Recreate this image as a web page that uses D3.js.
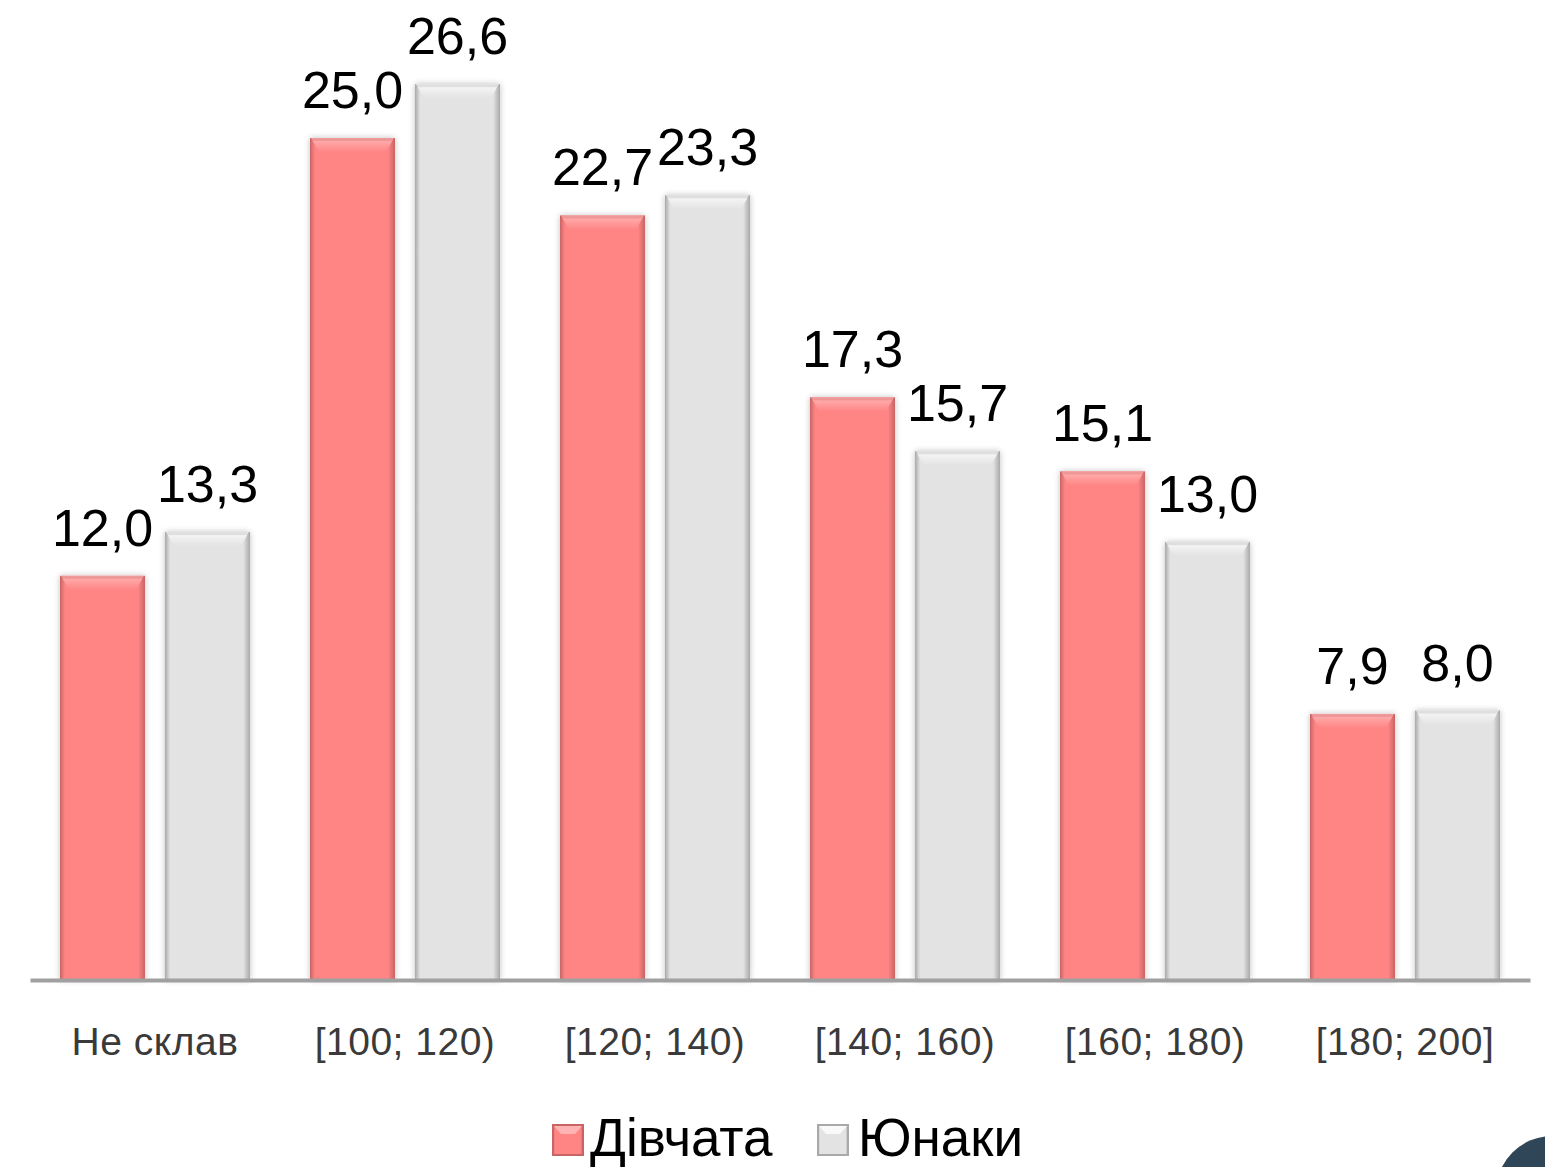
<!DOCTYPE html>
<html>
<head>
<meta charset="utf-8">
<script src="https://cdn.jsdelivr.net/npm/d3@7"></script>
<style>
  html, body { margin: 0; padding: 0; background: #fff; overflow: hidden; }
  svg { display: block; }
</style>
</head>
<body>
<div id="chart"></div>
<script>
// ------------------------------------------
//  Data
// ------------------------------------------
const categories = ["Не склав", "[100; 120)", "[120; 140)", "[140; 160)", "[160; 180)", "[180; 200]"]
const seriesNames = ["Дівчата", "Юнаки"]
const girls = [12.0, 25.0, 22.7, 17.3, 15.1, 7.9]
const boys = [13.3, 26.6, 23.3, 15.7, 13.0, 8.0]

const W = 1545, H = 1167
const margin = { left: 30, right: 15 }
const baseY = 980

const svg = d3.select("#chart").append("svg").attr("width", W).attr("height", H)
const defs = svg.append("defs")

// bar looks: body, edge, bevel highlight
const looks = [
    { body: "#ff8585", edge: "#c86464", light: "#ffb3b3", id: "pink" },
    { body: "#e3e3e3", edge: "#a9a9a9", light: "#f9f9f9", id: "grey" }
]

looks.forEach(l => {
    const g = defs.append("linearGradient").attr("id", "grad-" + l.id)
        .attr("x1", 0).attr("x2", 1).attr("y1", 0).attr("y2", 0)
    g.append("stop").attr("offset", "0%").attr("stop-color", l.edge)
    g.append("stop").attr("offset", "6%").attr("stop-color", l.body)
    g.append("stop").attr("offset", "92%").attr("stop-color", l.body)
    g.append("stop").attr("offset", "100%").attr("stop-color", l.edge)

    const v = defs.append("linearGradient").attr("id", "bevel-" + l.id)
        .attr("x1", 0).attr("x2", 0).attr("y1", 0).attr("y2", 1)
    v.append("stop").attr("offset", "0%").attr("stop-color", l.light)
    v.append("stop").attr("offset", "100%").attr("stop-color", l.body)
})

const shadow = defs.append("filter").attr("id", "shadow")
    .attr("x", "-20%").attr("y", "-5%").attr("width", "140%").attr("height", "110%")
shadow.append("feGaussianBlur").attr("in", "SourceAlpha").attr("stdDeviation", 3)
shadow.append("feComponentTransfer").append("feFuncA").attr("type", "linear").attr("slope", 0.25)
const merge = shadow.append("feMerge")
merge.append("feMergeNode")
merge.append("feMergeNode").attr("in", "SourceGraphic")

// ------------------------------------------
//  Scales
// ------------------------------------------
const x0 = d3.scaleBand().domain(categories).range([margin.left, W - margin.right])
const x1 = d3.scaleBand().domain(seriesNames).range([30, x0.bandwidth() - 30]).paddingInner(20 / 105)
const y = d3.scaleLinear().domain([0, 25]).range([baseY, 138])

// ------------------------------------------
//  Bars
// ------------------------------------------
const rows = categories.map((c, i) => ({ cat: c, vals: [girls[i], boys[i]] }))

const groups = svg.append("g").selectAll("g.cat").data(rows).join("g")
    .attr("class", "cat")
    .attr("transform", d => `translate(${x0(d.cat)},0)`)

const bars = groups.selectAll("g.bar")
    .data(d => d.vals.map((v, k) => ({ name: seriesNames[k], v, look: looks[k] })))
    .join("g").attr("class", "bar")
    .attr("transform", d => `translate(${x1(d.name)},0)`)

const bw = x1.bandwidth()

bars.append("rect")
    .attr("x", 0).attr("y", d => y(d.v))
    .attr("width", bw).attr("height", d => baseY - y(d.v))
    .attr("fill", d => `url(#grad-${d.look.id})`)
    .attr("filter", "url(#shadow)")

// top bevel
bars.append("path")
    .attr("d", d => {
        const t = y(d.v)
        return `M1,${t} L${bw - 1},${t} L${bw - 9},${t + 14} L9,${t + 14} Z`
    })
    .attr("fill", d => `url(#bevel-${d.look.id})`)

bars.append("rect")
    .attr("x", 0).attr("y", d => y(d.v))
    .attr("width", bw).attr("height", 3)
    .attr("fill", d => d.look.edge).attr("opacity", 0.3)

// value labels
bars.append("text")
    .attr("x", bw / 2)
    .attr("y", d => y(d.v) - 30)
    .attr("text-anchor", "middle")
    .attr("font-family", "Liberation Sans, Arial, sans-serif")
    .attr("font-size", 52)
    .attr("fill", "#000")
    .text(d => d.v.toFixed(1).replace(".", ","))

// ------------------------------------------
//  Axis
// ------------------------------------------
const axis = svg.append("g").attr("transform", `translate(0,${baseY})`)
    .call(d3.axisBottom(x0).tickSize(0).tickPadding(75))
axis.select(".domain").attr("stroke", "#a0a0a0").attr("stroke-width", 4)
axis.selectAll("text")
    .attr("font-family", "Liberation Sans, Arial, sans-serif")
    .attr("font-size", 39)
    .attr("letter-spacing", 0.5)
    .attr("fill", "#3a3a3a")
    .attr("dy", 0)

// ------------------------------------------
//  Legend
// ------------------------------------------
const legendPos = [553, 818]
const legend = svg.append("g").selectAll("g").data(seriesNames).join("g")
    .attr("transform", (d, i) => `translate(${legendPos[i]},1125)`)

legend.append("rect")
    .attr("width", 30).attr("height", 30)
    .attr("fill", (d, i) => `url(#grad-${looks[i].id})`)
    .attr("stroke", (d, i) => looks[i].edge).attr("stroke-width", 2)
legend.append("path")
    .attr("d", "M1,1 L29,1 L22,9 L8,9 Z")
    .attr("fill", (d, i) => looks[i].light)
legend.append("text")
    .attr("x", (d, i) => i === 0 ? 37 : 40)
    .attr("y", 31)
    .attr("font-family", "Liberation Sans, Arial, sans-serif")
    .attr("font-size", 53)
    .attr("fill", "#000")
    .text(d => d)

// decorative circle in corner
svg.append("circle").attr("cx", 1552).attr("cy", 1192).attr("r", 56).attr("fill", "#2f4659")
</script>
</body>
</html>
